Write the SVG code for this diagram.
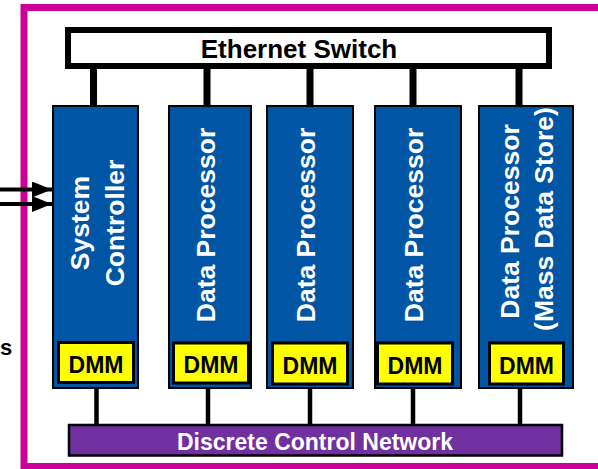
<svg xmlns="http://www.w3.org/2000/svg" width="598" height="469" viewBox="0 0 598 469">
  <style>
    text { font-family: "Liberation Sans", Arial, sans-serif; font-weight: bold; }
    .frame { fill: none; stroke: #CC0099; stroke-width: 7; }
    .switch { fill: #FFFFFF; stroke: #000000; stroke-width: 6; }
    .board { fill: #0055A5; stroke: #000000; stroke-width: 2; }
    .dmm { fill: #FFFF00; stroke: #000000; stroke-width: 3; }
    .dcn { fill: #7030A0; stroke: #000000; stroke-width: 2.5; }
    .eth { stroke: #000000; stroke-width: 7; }
    .ctl { stroke: #000000; stroke-width: 4.5; }
    .arrow { stroke: #000000; stroke-width: 4; }
    .lbl { fill: #FFFFFF; font-size: 26.5px; text-anchor: middle; }
    .dmmt { fill: #000000; font-size: 23px; text-anchor: middle; }
  </style>
  <defs>
    <marker id="head" markerWidth="5" markerHeight="4" refX="5" refY="2" orient="auto" markerUnits="strokeWidth">
      <path d="M0,0 L5,2 L0,4 Z" fill="#000000"/>
    </marker>
  </defs>

  <!-- enclosure outline -->
  <rect class="frame" x="24" y="7.5" width="600" height="459"/>

  <!-- external input label -->
  <text x="0" y="355" font-size="22" fill="#000000">s</text>

  <!-- connectors -->
  <g id="connectors">
    <line class="arrow" x1="0" y1="189.5" x2="52" y2="189.5" marker-end="url(#head)"/>
    <line class="arrow" x1="0" y1="204" x2="52" y2="204" marker-end="url(#head)"/>
    <line class="eth" x1="93.5" y1="68" x2="93.5" y2="107"/>
    <line class="eth" x1="207" y1="68" x2="207" y2="107"/>
    <line class="eth" x1="310" y1="68" x2="310" y2="107"/>
    <line class="eth" x1="413" y1="68" x2="413" y2="107"/>
    <line class="eth" x1="519" y1="68" x2="519" y2="107"/>
    <line class="ctl" x1="96.5" y1="388" x2="96.5" y2="425"/>
    <line class="ctl" x1="208" y1="388" x2="208" y2="425"/>
    <line class="ctl" x1="310" y1="388" x2="310" y2="425"/>
    <line class="ctl" x1="413" y1="388" x2="413" y2="425"/>
    <line class="ctl" x1="520" y1="388" x2="520" y2="425"/>
  </g>

  <g id="ethernet-switch">
    <rect class="switch" x="68" y="30" width="481" height="36"/>
    <text x="299" y="57.5" font-size="26" text-anchor="middle" fill="#000000">Ethernet Switch</text>
  </g>

  <g id="system-controller">
    <rect class="board" x="53" y="106" width="85" height="282"/>
    <text class="lbl" transform="translate(89,223) rotate(-90)" x="0" y="0">System</text>
    <text class="lbl" transform="translate(124,223) rotate(-90)" x="0" y="0">Controller</text>
    <rect class="dmm" x="58.5" y="342.5" width="75" height="40"/>
    <text class="dmmt" x="96" y="372.5">DMM</text>
  </g>

  <g id="data-processor-1">
    <rect class="board" x="169" y="106" width="82" height="282"/>
    <text class="lbl" transform="translate(215,225) rotate(-90)" x="0" y="0">Data Processor</text>
    <rect class="dmm" x="173.5" y="343" width="75" height="40"/>
    <text class="dmmt" x="211" y="373">DMM</text>
  </g>

  <g id="data-processor-2">
    <rect class="board" x="267" y="106" width="86" height="282"/>
    <text class="lbl" transform="translate(315,225) rotate(-90)" x="0" y="0">Data Processor</text>
    <rect class="dmm" x="272.5" y="343" width="75" height="41"/>
    <text class="dmmt" x="310" y="373.5">DMM</text>
  </g>

  <g id="data-processor-3">
    <rect class="board" x="375" y="106" width="86" height="282"/>
    <text class="lbl" transform="translate(423,225) rotate(-90)" x="0" y="0">Data Processor</text>
    <rect class="dmm" x="377.5" y="343" width="75" height="41"/>
    <text class="dmmt" x="415" y="373.5">DMM</text>
  </g>

  <g id="data-processor-mass-store">
    <rect class="board" x="479" y="106" width="94" height="282"/>
    <text class="lbl" transform="translate(519,221.5) rotate(-90)" x="0" y="0">Data Processor</text>
    <text class="lbl" transform="translate(553,219) rotate(-90)" x="0" y="0">(Mass Data Store)</text>
    <rect class="dmm" x="489.5" y="343" width="74" height="41"/>
    <text class="dmmt" x="526.5" y="373.5">DMM</text>
  </g>

  <g id="discrete-control-network">
    <rect class="dcn" x="69" y="425" width="493" height="30.5"/>
    <text x="315" y="449.5" font-size="23" text-anchor="middle" fill="#FFFFFF">Discrete Control Network</text>
  </g>
</svg>
